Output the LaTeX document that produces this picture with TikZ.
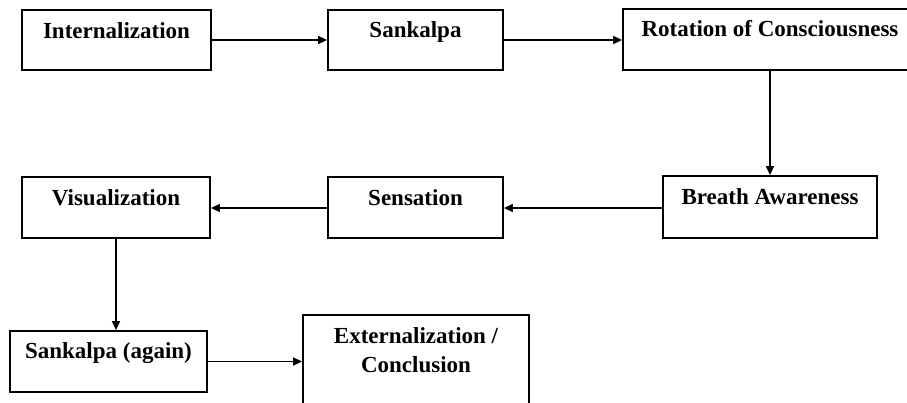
\documentclass[tikz,border=0pt]{standalone}
\usepackage{fontspec}
\setmainfont{Liberation Serif}
\usetikzlibrary{arrows.meta,calc}
\tikzset{
  stepbox/.style={draw=black, line width=1.8pt, rectangle, inner sep=0pt},
  lbl/.style={font=\fontsize{23}{26}\selectfont\bfseries, inner sep=0pt, anchor=base},
  conn/.style={line width=1.5pt, -{Triangle[length=9pt,width=8pt]}}
}
\begin{document}
\begin{tikzpicture}[x=1pt,y=-1pt]
\useasboundingbox (0,0) rectangle (907,402);
\clip (0,0) rectangle (907,402);
% boxes
\node[stepbox, minimum width=189pt, minimum height=60pt] (A) at (116.5,40) {};
\node[stepbox, minimum width=175pt, minimum height=60pt] (B) at (415.5,40) {};
\node[stepbox, minimum width=300pt, minimum height=61pt] (C) at (773,39.5) {};
\node[stepbox, minimum width=214pt, minimum height=62pt] (D) at (770,207) {};
\node[stepbox, minimum width=175pt, minimum height=61pt] (E) at (415.5,207.5) {};
\node[stepbox, minimum width=188pt, minimum height=61pt] (F) at (116,207.5) {};
\node[stepbox, minimum width=197pt, minimum height=61pt] (G) at (108.5,361.5) {};
\node[stepbox, minimum width=226pt, minimum height=110pt] (H) at (416,370) {};
% labels
\node[lbl] (tA) at (116.5,38) {Internalization};
\node[lbl] (tB) at (415.5,37.5) {Sankalpa};
\node[lbl] (tC) at (770,36.5) {Rotation of Consciousness};
\node[lbl] (tD) at (770,204.5) {Breath Awareness};
\node[lbl] (tE) at (415.5,205) {Sensation};
\node[lbl] (tF) at (116,205) {Visualization};
\node[lbl] (tG) at (108.5,358) {Sankalpa (again)};
\node[lbl] (tH1) at (416,343) {Externalization /};
\node[lbl] (tH2) at (416,372) {Conclusion};
% connectors
\draw[conn] (A.east) -- (B.west);
\draw[conn] (B.east) -- (C.west |- B.east);
\draw[conn] (C.south -| D.north) -- (D.north);
\draw[conn] (D.west |- 0,208) -- (E.east |- 0,208);
\draw[conn] (E.west |- 0,208) -- (F.east |- 0,208);
\draw[conn] (F.south) -- (F.south |- G.north);
\draw[conn] (G.east) -- (H.west |- G.east);
\end{tikzpicture}
\end{document}
